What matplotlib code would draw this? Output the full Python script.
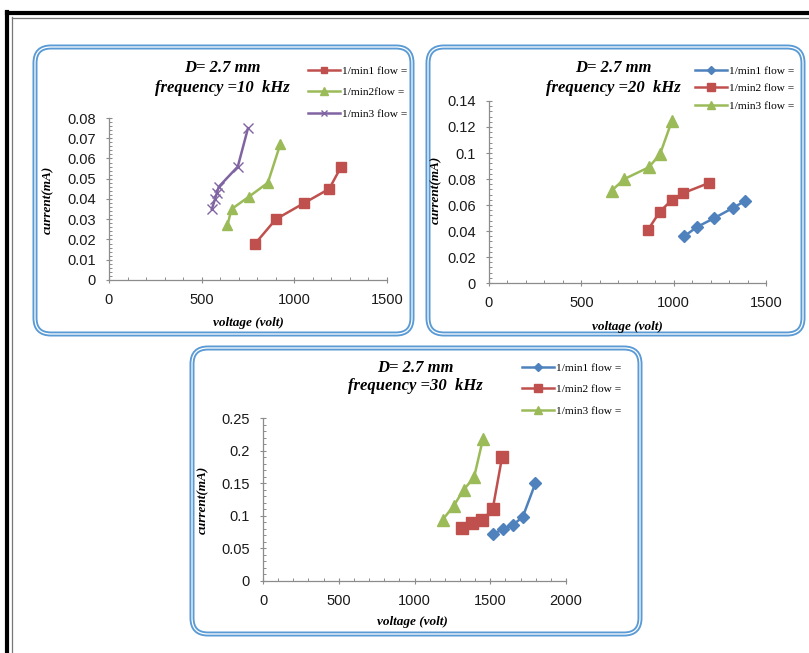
import matplotlib
matplotlib.use("Agg")
import matplotlib.pyplot as plt
from matplotlib.patches import FancyBboxPatch
from matplotlib.lines import Line2D
from matplotlib.ticker import MultipleLocator, AutoMinorLocator

# ---------------- data ----------------
# 10 kHz
v10_s1 = [789, 900, 1053, 1188, 1253]
i10_s1 = [0.018, 0.030, 0.038, 0.045, 0.056]
v10_s2 = [639, 661, 753, 857, 924]
i10_s2 = [0.027, 0.035, 0.041, 0.048, 0.067]
v10_s3 = [555, 572, 582, 592, 695, 750]
i10_s3 = [0.035, 0.040, 0.043, 0.046, 0.056, 0.075]
labels10 = ["1/min1 flow =", "1/min2flow =", "1/min3 flow ="]

# 20 kHz
v20_s1 = [1058, 1125, 1221, 1324, 1385]
i20_s1 = [0.036, 0.043, 0.050, 0.058, 0.063]
v20_s2 = [861, 926, 991, 1049, 1192]
i20_s2 = [0.041, 0.055, 0.064, 0.069, 0.077]
v20_s3 = [664, 733, 865, 926, 991]
i20_s3 = [0.071, 0.080, 0.089, 0.099, 0.125]
labels20 = ["1/min1 flow =", "1/min2 flow =", "1/min3 flow ="]

# 30 kHz
v30_s1 = [1516, 1582, 1648, 1714, 1798]
i30_s1 = [0.072, 0.079, 0.086, 0.098, 0.150]
v30_s2 = [1313, 1380, 1448, 1516, 1578]
i30_s2 = [0.082, 0.089, 0.094, 0.110, 0.190]
v30_s3 = [1186, 1258, 1325, 1393, 1452]
i30_s3 = [0.094, 0.115, 0.140, 0.159, 0.218]
labels30 = ["1/min1 flow =", "1/min2 flow =", "1/min3 flow ="]

titles = ["D= 2.7 mm\nfrequency =10  kHz",
          "D= 2.7 mm\nfrequency =20  kHz",
          "D= 2.7 mm\nfrequency =30  kHz"]

RED = "#C0504D"
GREEN = "#9BBB59"
PURPLE = "#8064A2"
BLUE = "#4F81BD"

W, H = 809, 653
fig = plt.figure(figsize=(W / 100, H / 100), dpi=100)
fig.patch.set_facecolor("white")

def fx(px):
    return px / W

def fy(py):
    return 1 - py / H

SERIF = "Liberation Serif"
SANS = "Liberation Sans"

# outer document frame
fig.add_artist(Line2D([fx(6.5), fx(6.5)], [fy(12), fy(700)], transform=fig.transFigure, color="black", lw=3.0))
fig.add_artist(Line2D([fx(6.5), fx(900)], [fy(12.5), fy(12.5)], transform=fig.transFigure, color="black", lw=3.0))
fig.add_artist(Line2D([fx(11.5), fx(11.5)], [fy(17), fy(700)], transform=fig.transFigure, color="#777777", lw=0.9))
fig.add_artist(Line2D([fx(11.5), fx(900)], [fy(17.5), fy(17.5)], transform=fig.transFigure, color="#777777", lw=0.9))

def rbox(x0, y0, x1, y1):
    # coordinates in pixels (top-left origin), drawn in inches
    for lw, col in [(3.6, "#5B9BD5"), (0.9, "white")]:
        p = FancyBboxPatch((x0 / 100, (H - y1) / 100), (x1 - x0) / 100, (y1 - y0) / 100,
                           boxstyle="round,pad=0,rounding_size=0.16",
                           transform=fig.dpi_scale_trans, fill=False,
                           edgecolor=col, lw=lw, zorder=0.5)
        fig.add_artist(p)

rbox(35, 47, 412, 334)
rbox(428, 47, 803, 334)
rbox(192, 348, 640, 634)

def make_axes(px0, py0, px1, py1):
    return fig.add_axes([fx(px0), fy(py1), fx(px1) - fx(px0), fy(py0) - fy(py1)])

def yfmt(v, pos):
    if abs(v) < 1e-12:
        return "0"
    return ("%.3f" % v).rstrip("0").rstrip(".")

def style(ax, xmax, ymax, ystep):
    ax.set_xlim(0, xmax)
    ax.set_ylim(0, ymax)
    ax.xaxis.set_major_locator(MultipleLocator(500))
    ax.yaxis.set_major_locator(MultipleLocator(ystep))
    ax.xaxis.set_minor_locator(AutoMinorLocator(5))
    ax.yaxis.set_minor_locator(AutoMinorLocator(5))
    for s in ["top", "right"]:
        ax.spines[s].set_visible(False)
    for s in ["left", "bottom"]:
        ax.spines[s].set_color("#8C8C8C")
        ax.spines[s].set_linewidth(0.9)
    ax.tick_params(which="major", direction="inout", length=5, width=0.8, color="#8C8C8C",
                   labelsize=10.5, labelcolor="#1a1a1a")
    ax.tick_params(which="minor", direction="in", length=2.5, width=0.7, color="#8C8C8C")
    ax.tick_params(axis="x", which="major", pad=7)
    ax.tick_params(axis="y", which="major", pad=7)
    ax.yaxis.set_major_formatter(plt.FuncFormatter(yfmt))
    for lab in ax.get_xticklabels() + ax.get_yticklabels():
        lab.set_fontfamily(SANS)
    ax.patch.set_alpha(0)

def plot_series(ax, x, y, color, marker, ms, label):
    ax.plot(x, y, color=color, lw=1.8, marker=marker, ms=ms, mfc=color, mec=color,
            mew=1.0, label=label, clip_on=False)

def add_legend(ax, x_px, y_px, spacing):
    leg = ax.legend(loc="upper left", bbox_to_anchor=(fx(x_px), fy(y_px)),
                    bbox_transform=fig.transFigure, frameon=False,
                    prop={"family": SERIF, "size": 8.2}, handlelength=2.8,
                    handletextpad=0.15, labelspacing=spacing, borderaxespad=0,
                    borderpad=0, markerscale=0.7)
    return leg

def titles_labels(title, tx, ty, ylx, yly, xlx, xly):
    fig.text(fx(tx), fy(ty), title, ha="center", va="center", family=SERIF,
             style="italic", weight="bold", fontsize=12, linespacing=1.25)
    fig.text(fx(ylx), fy(yly), "current(mA)", rotation=90, ha="center", va="center",
             family=SERIF, style="italic", weight="bold", fontsize=9.5)
    fig.text(fx(xlx), fy(xly), "voltage (volt)", ha="center", va="center",
             family=SERIF, style="italic", weight="bold", fontsize=9.5)

# ---------- panel 1 : 10 kHz ----------
ax1 = make_axes(109, 118, 387, 280)
plot_series(ax1, v10_s1, i10_s1, RED, "s", 7, labels10[0])
plot_series(ax1, v10_s2, i10_s2, GREEN, "^", 7.5, labels10[1])
plot_series(ax1, v10_s3, i10_s3, PURPLE, "x", 7, labels10[2])
style(ax1, 1500, 0.08, 0.01)
add_legend(ax1, 308, 66, 1.0)
titles_labels(titles[0], 222, 78, 48, 200, 248, 323)

# ---------- panel 2 : 20 kHz ----------
ax2 = make_axes(489, 101, 766, 283)
plot_series(ax2, v20_s1, i20_s1, BLUE, "D", 6, labels20[0])
plot_series(ax2, v20_s2, i20_s2, RED, "s", 7.5, labels20[1])
plot_series(ax2, v20_s3, i20_s3, GREEN, "^", 8, labels20[2])
style(ax2, 1500, 0.14, 0.02)
add_legend(ax2, 695, 66, 0.65)
titles_labels(titles[1], 613, 78, 436, 190, 627, 327)

# ---------- panel 3 : 30 kHz ----------
ax3 = make_axes(263, 418, 566, 581)
plot_series(ax3, v30_s1, i30_s1, BLUE, "D", 6, labels30[0])
plot_series(ax3, v30_s2, i30_s2, RED, "s", 8, labels30[1])
plot_series(ax3, v30_s3, i30_s3, GREEN, "^", 8, labels30[2])
style(ax3, 2000, 0.25, 0.05)
add_legend(ax3, 522, 363, 1.0)
titles_labels(titles[2], 415, 377, 203, 500, 412, 622)

fig.savefig("out.png", dpi=100)
